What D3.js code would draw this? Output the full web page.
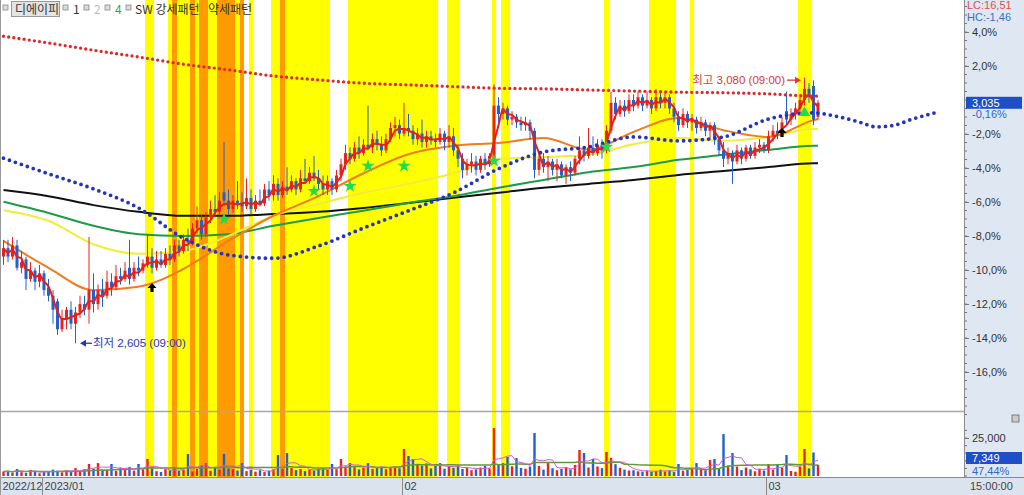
<!DOCTYPE html>
<html><head><meta charset="utf-8">
<script src="https://cdn.jsdelivr.net/npm/d3@7"></script>
<style>
body{margin:0;background:#fff;}
svg{display:block;font-family:"Liberation Sans","Noto Sans CJK KR",sans-serif;}
</style>
</head><body>
<svg id="c" width="1024" height="495"></svg>
<script>
// ---------- data ----------
const openP = [
2760,2775,2760,2780,2740,2755,2720,2735,2715,2730,
2705,2690,2680,2630,2650,2665,2640,2660,2675,2665,
2700,2675,2700,2690,2715,2705,2725,2720,2740,2720,
2740,2735,2745,2760,2740,2755,2745,2765,2755,2780,
2770,2790,2785,2810,2825,2800,2830,2845,2840,2875,
2860,2845,2860,2855,2850,2865,2845,2860,2855,2880,
2870,2890,2870,2885,2880,2895,2880,2900,2895,2910,
2900,2890,2880,2895,2880,2905,2925,2945,2935,2955,
2945,2960,2955,2970,2960,2950,2970,2990,2995,2980,
2990,2985,2970,2980,2965,2975,2968,2965,2980,2965,
2975,2950,2935,2915,2925,2930,2915,2935,2925,2935,
3030,3015,3025,3005,3010,3000,2995,3000,2985,2915,
2935,2920,2930,2915,2925,2905,2920,2910,2935,2950,
2940,2955,2945,2960,2950,2985,3035,3015,3030,3020,
3040,3030,3045,3030,3040,3025,3045,3035,3045,3025,
3010,2995,3015,3000,3005,2990,3000,2985,2995,2970,
2950,2935,2945,2930,2950,2935,2955,2940,2955,2960,
2950,2975,2985,2980,3020,3005,3015,3025,3040,3060,
3065,3010];
const highP = [
2790,2790,2795,2790,2770,2760,2750,2740,2745,2735,
2720,2700,2685,2665,2670,2680,2670,2690,2690,2795,
2730,2710,2720,2735,2730,2745,2740,2750,2790,2750,
2760,2755,2800,2775,2770,2770,2775,2780,2790,2790,
2800,2810,2820,2850,2835,2840,2860,2870,2875,2965,
2880,2870,2895,2875,2900,2880,2870,2880,2890,2895,
2905,2900,2895,2920,2905,2900,2915,2935,2920,2940,
2915,2905,2905,2900,2915,2935,2960,2955,2965,2975,
2970,3030,2980,2985,2975,2980,3000,3010,3005,3035,
3015,2995,2990,3005,2985,2985,2980,2990,2985,2995,
2990,2960,2945,2935,2945,2940,2940,2945,2945,3068,
3045,3035,3030,3020,3015,3010,3010,3005,2990,2945,
2945,2940,2935,2935,2930,2925,2930,2940,2975,2955,
2990,2975,2970,2970,2995,3055,3045,3040,3040,3050,
3050,3055,3050,3055,3045,3060,3055,3055,3050,3035,
3020,3025,3020,3015,3010,3010,3005,3000,3000,2975,
2965,2955,2950,2960,2955,2960,2960,2965,2970,2965,
2985,2995,3000,3010,3055,3025,3035,3050,3080,3070,
3075,3040];
const lowP = [
2745,2750,2755,2735,2730,2700,2715,2700,2705,2690,
2680,2640,2620,2625,2630,2630,2605,2650,2655,2640,
2660,2665,2670,2685,2690,2700,2710,2715,2710,2715,
2725,2730,2740,2730,2735,2740,2740,2745,2750,2760,
2765,2770,2780,2800,2790,2795,2820,2830,2835,2850,
2835,2838,2845,2840,2845,2835,2840,2850,2850,2860,
2860,2860,2865,2870,2875,2870,2875,2890,2890,2895,
2880,2870,2870,2870,2875,2895,2915,2925,2930,2935,
2940,2950,2945,2950,2940,2945,2965,2975,2970,2975,
2975,2960,2960,2955,2955,2960,2955,2960,2950,2955,
2940,2920,2900,2905,2910,2905,2910,2915,2920,2930,
3000,3005,2995,2995,2990,2985,2985,2970,2900,2905,
2910,2895,2905,2895,2900,2890,2895,2905,2925,2930,
2935,2940,2940,2935,2945,2980,3005,3010,3010,3015,
3020,3025,3020,3025,3015,3020,3025,3025,3015,3000,
2985,2990,2990,2985,2980,2985,2975,2970,2960,2940,
2920,2925,2890,2925,2925,2930,2935,2935,2945,2945,
2945,2965,2970,2975,2995,2995,3005,3015,3030,3035,
2995,3005];
const closeP = [
2775,2760,2780,2740,2750,2720,2735,2715,2730,2700,
2690,2665,2630,2650,2665,2640,2660,2675,2665,2700,
2675,2700,2690,2715,2705,2725,2720,2735,2720,2740,
2735,2748,2760,2740,2755,2745,2765,2755,2780,2770,
2790,2785,2810,2825,2800,2830,2845,2840,2860,2860,
2845,2860,2855,2850,2865,2845,2860,2855,2880,2870,
2890,2870,2885,2880,2895,2880,2900,2895,2910,2900,
2890,2880,2895,2880,2905,2925,2945,2935,2955,2945,
2960,2955,2970,2960,2950,2970,2990,2995,2980,2990,
2985,2970,2980,2965,2975,2968,2965,2980,2965,2975,
2950,2935,2915,2925,2930,2915,2935,2925,2940,3030,
3015,3025,3005,3010,3000,2995,3000,2985,2915,2935,
2920,2930,2915,2925,2905,2920,2910,2935,2950,2940,
2955,2945,2960,2950,2985,3035,3015,3030,3020,3040,
3030,3045,3030,3040,3025,3045,3035,3045,3025,3010,
2995,3015,3000,3005,2990,3000,2985,2995,2970,2950,
2935,2945,2930,2950,2935,2955,2940,2955,2960,2950,
2975,2985,2980,3000,3005,3015,3025,3040,3060,3045,
3005,3035];
const volume = [
3000,3300,2200,4600,2500,2000,4000,2800,1800,2600,
3000,4200,3500,2400,3800,2600,5200,3100,4500,7900,
4800,8500,3600,4200,7900,3300,5600,4000,6000,3500,
7900,4400,11200,5000,3200,2600,4500,3800,5200,3400,
4000,14500,3000,4700,6800,8500,3500,5400,4200,14500,
5000,4500,3600,8500,3200,4100,2900,3800,2600,3300,
4400,13800,4800,15100,5400,3900,4600,3200,4200,3600,
4800,5200,4000,7900,4500,11200,6200,8500,5800,4300,
5500,8500,4700,5200,6100,4500,5800,6400,5100,17800,
13200,11200,7500,6800,8200,5000,6600,8500,4800,6200,
5400,6800,4600,5200,3800,4400,5600,6600,5000,31600,
7800,8500,12500,6400,11800,5300,4800,6200,28300,6600,
4200,8500,5100,3800,4600,5900,4400,7300,17100,15100,
5600,11200,6300,5200,15800,12000,7800,5400,4200,3600,
3800,3100,2900,3500,2800,3300,4100,3000,3700,2600,
7900,3400,4000,4600,8500,5200,3800,10500,11200,4800,
27600,7000,15100,6200,3900,5600,4400,3100,4800,3600,
7900,4200,7200,5500,13800,3300,2800,6200,17800,5000,
15490,7349];

// month labels on the time axis
const monthLabels = ["2022/12","2023/01","02","03"];
const monthIdx = [0,9,89,170];
// signal bars (candle indices)
const strongBars = [32,33,37,39,40,41,43,46,47,52,55,60,61,63,64,65,66,67,68,69,70,71,72,
  77,78,79,80,81,82,83,84,85,86,87,88,89,90,91,92,93,94,95,96,99,100,101,109,111,112,134,
  144,145,146,147,148,149,153,177,178,179];
const orangeBars = [38,42,44,45,48,49,50,51,53,62];
// moving averages read at sample candle indices
const maIdx   = [0,10,20,30,40,50,60,70,80,90,100,110,120,130,140,150,160,170,180,181];
const maOrange= [2788,2740,2700,2706,2738,2788,2833,2868,2909,2943,2958,2963,2972,2951,2983,3008,2986,2974,3004,3006];
const maYellow= [2843,2824,2782,2765,2770,2797,2833,2854,2874,2890,2909,2934,2938,2942,2961,2972,2967,2974,2988,2988];
const maGreen = [2858,2838,2815,2800,2797,2800,2815,2829,2842,2856,2868,2883,2897,2911,2920,2933,2942,2951,2958,2958];
const maBlack = [2879,2868,2852,2840,2833,2833,2836,2840,2847,2856,2865,2874,2883,2890,2897,2906,2913,2920,2927,2927];
const topDots = [3154,3142,3129,3117,3104,3094,3083,3076,3070,3067,3064,3061,3060,3058,3056,3054,3053,3051,3047,3047];
const leadIdx = [0,10,20,30,40,50,60,70,80,90,100,110,120,130,140,150,160,170,180,185,190,194,198,202,207];
const leadDots= [2936,2908,2881,2847,2793,2763,2757,2779,2811,2842,2874,2917,2947,2956,2974,2967,2974,3006,3017,3011,3001,2992,2995,3006,3017];
// signal markers [candle index, price]
const starSig = [[49,2827],[69,2877],[77,2886],[81,2922],[89,2922],[109,2931],[134,2956]];
const triSig  = [[178,3017]];
const buySig  = [[33,2704],[173,2981]];
const pctTicks = [4,2,-2,-4,-6,-8,-10,-12,-14,-16];
const volTicks = [25000];
const basePrice = 3040;
const lowMark  = {idx:16, label:"최저 2,605 (09:00)"};
const highMark = {idx:178, label:"최고 3,080 (09:00)"};

// ---------- scales ----------
const N = closeP.length;
const svg = d3.select("#c");
const plotR = 964;
const x = d3.scaleLinear().domain([0, N-1]).range([3.5, 818]);
const step = x(1)-x(0);
const yPct = d3.scaleLinear().domain([-16,4]).range([372,32]);
const y = p => yPct((p/basePrice-1)*100);
const yV = d3.scaleLinear().domain([0,25000]).range([476,438]);
const loc = d3.formatLocale({decimal:",",thousands:".",grouping:[3],currency:["",""],minus:"-"});
const f1 = loc.format(".1f"), f2 = loc.format(".2f");
const fComma = d3.format(",");

const RED="#e8231f", BLUE="#2160d2";

svg.append("rect").attr("width",1024).attr("height",495).attr("fill","#fff");
const defs = svg.append("defs");
defs.append("clipPath").attr("id","cp").append("rect").attr("x",0).attr("y",0).attr("width",plotR).attr("height",411);
defs.append("clipPath").attr("id","cv").append("rect").attr("x",0).attr("y",412).attr("width",plotR).attr("height",65);

// signal bands: merge consecutive candle indices into runs
function runs(list){
  const s=[...list].sort((a,b)=>a-b), out=[];
  s.forEach(v=>{ const last=out[out.length-1]; if(last && v===last[1]+1) last[1]=v; else out.push([v,v]); });
  return out;
}
const bands = svg.append("g").attr("shape-rendering","crispEdges");
bands.selectAll(".sb").data(runs(strongBars)).join("rect")
  .attr("x",d=>Math.round(x(d[0])-step/2)).attr("width",d=>Math.round(x(d[1])+step/2)-Math.round(x(d[0])-step/2))
  .attr("y",0).attr("height",477).attr("fill","#ffff00");
bands.selectAll(".ob").data(runs(orangeBars)).join("rect")
  .attr("x",d=>Math.round(x(d[0])-step/2)).attr("width",d=>Math.round(x(d[1])+step/2)-Math.round(x(d[0])-step/2))
  .attr("y",0).attr("height",477).attr("fill","#ff9a00");

// price panel
const gp = svg.append("g").attr("clip-path","url(#cp)");
const maLine = d3.line().x(d=>x(d[0])).y(d=>y(d[1])).curve(d3.curveMonotoneX);
const zipIdx = (idx, vals) => idx.map((v,k)=>[v, vals[k]]);
[[maBlack,"#111",2],[maGreen,"#1f9a4a",2],[maYellow,"#f2ec3a",2],[maOrange,"#f27b1e",2]].forEach(([vals,c,w])=>{
  gp.append("path").attr("d",maLine(zipIdx(maIdx,vals))).attr("fill","none").attr("stroke",c).attr("stroke-width",w);
});

// candles
const cg = gp.append("g");
d3.range(N).forEach(i=>{
  const o=openP[i], c=closeP[i], up=c>=o, col=up?RED:BLUE;
  cg.append("line").attr("x1",x(i)).attr("x2",x(i)).attr("y1",y(highP[i])).attr("y2",y(lowP[i]))
    .attr("stroke",col).attr("stroke-width",1);
  const top=y(Math.max(o,c)), bot=y(Math.min(o,c));
  cg.append("rect").attr("x",x(i)-1.5).attr("width",3).attr("y",top).attr("height",Math.max(1,bot-top)).attr("fill",col);
});

// short moving average of closes (red)
const ma3 = closeP.map((v,i)=>{const s=closeP.slice(Math.max(0,i-2),i+1);return [i, d3.mean(s)];});
gp.append("path").attr("d",maLine(ma3)).attr("fill","none").attr("stroke","#e3201a").attr("stroke-width",2);

// dotted lines
gp.append("path").attr("d",maLine(zipIdx(leadIdx,leadDots))).attr("fill","none")
  .attr("stroke","#2433c0").attr("stroke-width",3.8).attr("stroke-linecap","round").attr("stroke-dasharray","0,6.3");
gp.append("path").attr("d",maLine(zipIdx(maIdx,topDots))).attr("fill","none")
  .attr("stroke","#e0282a").attr("stroke-width",3.3).attr("stroke-linecap","round").attr("stroke-dasharray","0,5.2");

// markers
gp.selectAll(".st").data(starSig).join("path")
  .attr("transform",d=>`translate(${x(d[0])},${y(d[1])})`)
  .attr("d",d3.symbol().type(d3.symbolStar).size(55)).attr("fill","#22dd4a");
gp.selectAll(".tr").data(triSig).join("path")
  .attr("transform",d=>`translate(${x(d[0])},${y(d[1])})`)
  .attr("d",d3.symbol().type(d3.symbolTriangle).size(55)).attr("fill","#22dd4a");
gp.selectAll(".bu").data(buySig).join("path")
  .attr("transform",d=>`translate(${x(d[0])},${y(d[1])})`)
  .attr("d","M0,-5L4.5,0L1.6,0L1.6,4L-1.6,4L-1.6,0L-4.5,0Z").attr("fill","#000");

// low / high annotations
const lowV = d3.min(lowP), highV = d3.max(highP);
{
  const lx = x(lowMark.idx)+4.5, ly = y(lowV);
  gp.append("path").attr("d",`M${lx},${ly}l6,-3.5v7z`).attr("fill","#2a35b0");
  gp.append("line").attr("x1",lx+5).attr("x2",lx+12).attr("y1",ly).attr("y2",ly).attr("stroke","#2a35b0").attr("stroke-width",1.3);
  gp.append("text").attr("x",lx+13).attr("y",ly+4).attr("font-size",11.5).attr("fill","#2a35b0").text(lowMark.label);
  const hx = x(highMark.idx)-3.5, hy = y(highV)+2.5;
  gp.append("path").attr("d",`M${hx},${hy}l-6,-3.5v7z`).attr("fill","#e03535");
  gp.append("line").attr("x1",hx-14).attr("x2",hx-5).attr("y1",hy).attr("y2",hy).attr("stroke","#e03535").attr("stroke-width",1.3);
  gp.append("text").attr("x",hx-16).attr("y",hy+4).attr("text-anchor","end").attr("font-size",11.5).attr("fill","#e03535").text(highMark.label);
}

// separator between panels
svg.append("line").attr("x1",0).attr("x2",1024).attr("y1",411.5).attr("y2",411.5).attr("stroke","#a8a8a8").attr("stroke-width",1.5);

// volume panel
const gv = svg.append("g").attr("clip-path","url(#cv)");
gv.selectAll(".vb").data(volume).join("rect")
  .attr("x",(d,i)=>x(i)-1.2).attr("width",2.4)
  .attr("y",d=>yV(d)).attr("height",d=>yV(0)-yV(d))
  .attr("fill",(d,i)=>closeP[i]>=openP[i]?RED:BLUE);
const vma = n => volume.map((v,i)=>[i, d3.mean(volume.slice(Math.max(0,i-n+1),i+1))]);
const vLine = d3.line().x(d=>x(d[0])).y(d=>yV(d[1]));
gv.append("path").attr("d",vLine(vma(20))).attr("fill","none").attr("stroke","#5f9a35").attr("stroke-width",1.5);
gv.append("path").attr("d",vLine(vma(5))).attr("fill","none").attr("stroke","#d45ad4").attr("stroke-width",1);

// right axis panel
svg.append("rect").attr("x",plotR).attr("y",0).attr("width",1024-plotR).attr("height",478).attr("fill","#dfe7f2");
const ax = svg.append("g").attr("transform",`translate(${plotR},0)`).attr("font-size",11).attr("fill","#333");
ax.selectAll(".mt").data(d3.range(-18.5,6,0.5)).join("line")
  .attr("x1",0).attr("x2",3).attr("y1",d=>yPct(d)).attr("y2",d=>yPct(d)).attr("stroke","#777");
const pa = d3.axisRight(yPct).tickValues(pctTicks).tickSize(5).tickPadding(3).tickFormat(d=>f1(d)+"%");
const pg = ax.append("g").call(pa);
pg.select(".domain").remove();
pg.selectAll(".tick line").attr("stroke","#777");
pg.selectAll("text").attr("fill","#333").attr("font-size",11).attr("font-family","Liberation Sans");
ax.selectAll(".vt").data(d3.range(0,30001,5000)).join("line")
  .attr("x1",0).attr("x2",3).attr("y1",d=>yV(d)).attr("y2",d=>yV(d)).attr("stroke","#777");
const va = d3.axisRight(yV).tickValues(volTicks).tickSize(5).tickPadding(3).tickFormat(fComma);
const vg = ax.append("g").call(va);
vg.select(".domain").remove();
vg.selectAll(".tick line").attr("stroke","#777");
vg.selectAll("text").attr("fill","#333").attr("font-size",11).attr("font-family","Liberation Sans");
svg.append("line").attr("x1",plotR+0.5).attr("x2",plotR+0.5).attr("y1",0).attr("y2",495).attr("stroke","#8a8a8a");

// last price box
const lastC = closeP[N-1], lastV = volume[N-1];
svg.append("rect").attr("x",plotR+2).attr("y",y(lastC)-6).attr("width",56).attr("height",12).attr("fill","#1f4fc6");
svg.append("text").attr("x",plotR+8).attr("y",y(lastC)+4).attr("font-size",11).attr("fill","#fff").text(fComma(lastC));
svg.append("text").attr("x",plotR+8).attr("y",y(lastC)+15).attr("font-size",11).attr("fill","#2e66d0")
  .text(f2((lastC/basePrice-1)*100)+"%");
svg.append("rect").attr("x",plotR+2).attr("y",452).attr("width",56).attr("height",12).attr("fill","#1f4fc6");
svg.append("text").attr("x",plotR+8).attr("y",462).attr("font-size",11).attr("fill","#fff").text(fComma(lastV));
svg.append("text").attr("x",plotR+8).attr("y",474.5).attr("font-size",11).attr("fill","#2e66d0")
  .text(f2(lastV/volume[N-2]*100)+"%");
svg.append("text").attr("x",plotR+3).attr("y",9).attr("font-size",11).attr("fill","#e05050")
  .text("LC:"+f2((lastC/lowV-1)*100));
svg.append("text").attr("x",plotR+3).attr("y",21).attr("font-size",11).attr("fill","#3a70c8")
  .text("HC:"+f2((lastC/highV-1)*100));
svg.append("rect").attr("x",1012).attr("y",415).attr("width",7).attr("height",7).attr("fill","#ccc").attr("stroke","#666").attr("stroke-width",0.8);

// bottom time axis strip
svg.append("rect").attr("x",0).attr("y",478).attr("width",1024).attr("height",17).attr("fill","#dbe3ee");
svg.append("line").attr("x1",0).attr("x2",1024).attr("y1",477.5).attr("y2",477.5).attr("stroke","#8a8a8a");
const tg = svg.append("g");
monthIdx.forEach((mi,k)=>{
  const bx = k===0 ? 0.5 : Math.round(x(mi)-step/2)+0.5;
  if(k>0) tg.append("line").attr("x1",bx).attr("x2",bx).attr("y1",478).attr("y2",495).attr("stroke","#8a8a8a");
  tg.append("text").attr("x",bx+2).attr("y",489.5).attr("font-size",11).attr("fill","#444").text(monthLabels[k]);
});
tg.append("text").attr("x",plotR+6).attr("y",489.5).attr("font-size",11).attr("fill","#444").text("15:00:00");
svg.append("line").attr("x1",0.5).attr("x2",0.5).attr("y1",0).attr("y2",495).attr("stroke","#999");

// legend
const lg = svg.append("g").attr("font-size",12).attr("fill","#333").attr("font-family","Noto Sans CJK KR, Liberation Sans");
const sq = xx => lg.append("rect").attr("x",xx).attr("y",5).attr("width",5).attr("height",5).attr("fill","#ddd").attr("stroke","#888").attr("stroke-width",0.8);
sq(3);
lg.append("rect").attr("x",11.5).attr("y",1.5).attr("width",48).attr("height",15).attr("fill","#e4e4e4").attr("stroke","#999");
lg.append("text").attr("x",15).attr("y",13.5).text("디에이피");
sq(63); lg.append("text").attr("x",73).attr("y",13.5).text("1");
sq(84); lg.append("text").attr("x",94).attr("y",13.5).attr("fill","#bbb").text("2");
sq(105); lg.append("text").attr("x",115).attr("y",13.5).attr("fill","#2ea84a").text("4");
sq(126); lg.append("text").attr("x",135).attr("y",13.5).text("SW 강세패턴");
lg.append("text").attr("x",208).attr("y",13.5).text("약세패턴");
</script>
</body></html>
